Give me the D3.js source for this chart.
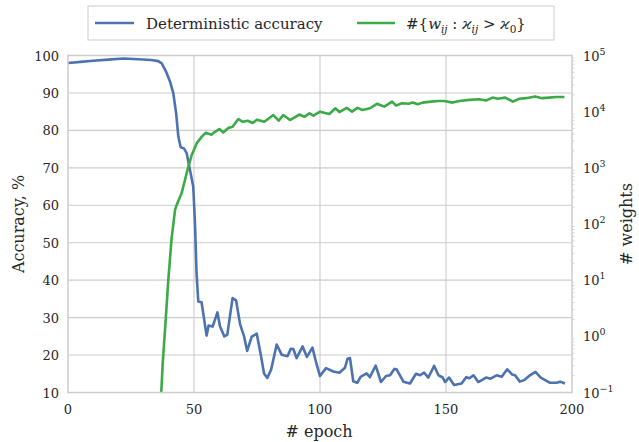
<!DOCTYPE html>
<html><head><meta charset="utf-8">
<script src="https://cdn.jsdelivr.net/npm/d3@7"></script>
<style>
body{margin:0;background:#fff;}
</style></head>
<body><svg id="c" width="639" height="442"></svg>
<script>
const accEpochs=[0,5,10,16,22,28,33,35.8,37.2,38.9,40.5,41.8,42.9,43.8,44.7,46.0,47.1,48.4,49.7,50.4,51.0,51.7,53.0,55.0,55.8,57.4,59.3,60.3,62.0,63.2,65.3,66.7,68.3,69.9,71.1,72.9,74.9,76.5,77.8,79.1,80.6,82.8,84.8,87.1,88.4,89.4,90.7,93.1,94.8,97.0,98.4,100.0,102.4,105.3,107.7,109.9,110.9,111.9,113.2,114.8,116.1,118.5,119.8,122.1,124.2,126.2,127.8,129.5,130.4,133.1,135.7,138.1,139.7,141.3,143.0,145.3,147.0,148.7,149.6,151.2,153.2,156.2,158.0,159.3,160.9,162.8,165.9,167.7,170.1,172.1,174.3,176.3,177.4,179.3,181.0,183.3,185.5,187.6,191.3,193.9,195.3,197.2];
const accValues=[98.0,98.3,98.6,98.9,99.2,99.0,98.8,98.5,97.9,95.7,93.0,89.9,84.6,78.3,75.5,75.2,73.9,69.4,65.0,55,42,34.3,34.1,25.2,27.9,27.6,31.4,27.7,25.0,25.4,35.2,34.6,28.2,24.9,21.1,24.9,25.7,20.1,15.1,13.9,16.1,22.8,20.1,19.7,21.7,21.6,19.2,22.3,19.5,22.0,18.2,14.4,16.5,15.6,15.3,16.6,19.0,19.2,13.0,12.6,14.2,15.1,14.1,17.2,12.8,14.4,14.6,16.3,16.2,12.9,12.4,15.0,14.6,15.3,14.0,17.1,14.6,14.0,12.8,14.0,12.0,12.4,14.1,13.8,14.6,12.8,14.0,13.7,14.6,14.2,16.2,14.8,14.6,12.9,13.3,14.6,15.5,14.0,12.6,12.6,12.9,12.4];
const wEpochs=[37,37.6,38.5,39.8,41.1,42.5,43.4,45.1,47.1,49.1,51.1,53.1,54.6,57.0,57.9,60.1,61.6,63.6,65.3,67.6,69.3,71.3,73.3,75,77.9,81.5,83.6,85.4,88.1,91.8,93.8,95.8,97.4,100,103.7,106.1,107.7,110.6,112.7,114.9,116.9,119.8,122.6,125.5,128.6,130.2,132.5,135.2,136.8,138.8,140.7,144.0,147.1,149.3,152.6,155.3,159.3,163.2,165.9,168.5,170.5,173.5,176.5,179.1,181.7,185.4,188.1,191.0,193.7,197.0];
const wValues=[0.1,0.34,1.3,10,55,180,235,355,810,1700,2750,3600,4200,3900,4250,4900,4250,5100,5400,7400,6600,6900,6300,7200,6600,8700,6900,8700,7100,8900,8100,9300,8500,10000,9100,11500,9800,11700,10000,11700,10700,11500,13800,12300,15100,12900,14100,13800,14500,13500,14500,15100,15500,15500,14500,15500,16200,16600,15800,17800,17000,17800,15100,17000,17400,18600,17400,17800,18200,18200];
const xTicks=[0,50,100,150,200];
const yTicks=[10,20,30,40,50,60,70,80,90,100];
const rExps=[-1,0,1,2,3,4,5];
const legendLabels=["Deterministic accuracy"];

const svg=d3.select("#c");
const L=68,R=572,T=55.5,B=392.5;
const grid="#cccccc", txt="#262626";
const blue="#4c72b0", green="#3caa46";
const FF='"DejaVu Serif",serif';
const x=d3.scaleLinear().domain([0,200]).range([L,R]);
const y=d3.scaleLinear().domain([10,100]).range([B,T]);
const yr=d3.scaleLog().domain([0.1,1e5]).range([B,T]);

const g=svg.append("g");
g.selectAll("line.h").data(yTicks.slice(1,-1)).join("line")
 .attr("x1",L).attr("x2",R).attr("y1",d=>y(d)).attr("y2",d=>y(d))
 .attr("stroke",grid).attr("stroke-width",1.1);
g.selectAll("line.v").data(xTicks.slice(1,-1)).join("line")
 .attr("y1",T).attr("y2",B).attr("x1",d=>x(d)).attr("x2",d=>x(d))
 .attr("stroke",grid).attr("stroke-width",1.1);

const minors=[];
for(let e=-1;e<5;e++) for(let k=2;k<10;k++) minors.push(k*Math.pow(10,e));
g.selectAll("line.m").data(minors).join("line")
 .attr("x1",R).attr("x2",R+2.5).attr("y1",d=>yr(d)).attr("y2",d=>yr(d))
 .attr("stroke",grid).attr("stroke-width",0.8);

const accData=accEpochs.map((e,i)=>[e,accValues[i]]);
const wData=wEpochs.map((e,i)=>[e,wValues[i]]);
svg.append("path").datum(accData).attr("fill","none").attr("stroke",blue).attr("stroke-width",2.6)
 .attr("stroke-linejoin","round")
 .attr("d",d3.line().x(d=>x(d[0])).y(d=>y(d[1])));
svg.append("path").datum(wData).attr("fill","none").attr("stroke",green).attr("stroke-width",2.6)
 .attr("stroke-linejoin","round")
 .attr("d",d3.line().x(d=>x(d[0])).y(d=>yr(d[1])));

svg.append("rect").attr("x",L).attr("y",T).attr("width",R-L).attr("height",B-T)
 .attr("fill","none").attr("stroke",grid).attr("stroke-width",1.5);

svg.append("g").selectAll("text").data(xTicks).join("text")
 .attr("font-family",FF)
 .attr("x",d=>x(d)).attr("y",B+21).attr("text-anchor","middle")
 .attr("font-size",13).attr("fill",txt).text(d=>d);
svg.append("g").selectAll("text").data(yTicks).join("text")
 .attr("font-family",FF)
 .attr("x",L-9).attr("y",d=>y(d)+5).attr("text-anchor","end")
 .attr("font-size",13).attr("fill",txt).text(d=>d);
const rt=svg.append("g").selectAll("text").data(rExps).join("text")
 .attr("font-family",FF)
 .attr("x",R+11).attr("y",d=>yr(Math.pow(10,d))+5)
 .attr("font-size",13).attr("fill",txt);
rt.append("tspan").text("10");
rt.append("tspan").attr("dy",-6).attr("font-size",9.5).text(d=>d<0?"\u2212"+(-d):d);

svg.append("text").attr("font-family",FF).attr("x",319).attr("y",437).attr("text-anchor","middle")
 .attr("font-size",16).attr("fill",txt).text("# epoch");
svg.append("text").attr("font-family",FF).attr("transform","translate(24,224) rotate(-90)").attr("text-anchor","middle")
 .attr("font-size",16).attr("fill",txt).text("Accuracy, %");
svg.append("text").attr("font-family",FF).attr("transform","translate(632,224) rotate(-90)").attr("text-anchor","middle")
 .attr("font-size",16).attr("fill",txt).text("# weights");

const lg=svg.append("g");
lg.append("rect").attr("x",88).attr("y",6).attr("width",466).attr("height",34)
 .attr("fill","#fff").attr("stroke",grid).attr("stroke-width",1);
lg.append("line").attr("x1",95).attr("x2",134).attr("y1",23).attr("y2",23).attr("stroke",blue).attr("stroke-width",2.6);
lg.append("text").attr("font-family",FF).attr("x",146).attr("y",28.5).attr("font-size",15).attr("fill",txt).text(legendLabels[0]);
lg.append("line").attr("x1",357).attr("x2",395).attr("y1",23).attr("y2",23).attr("stroke",green).attr("stroke-width",2.6);
const t2=lg.append("text").attr("font-family",FF).attr("x",406).attr("y",28.5).attr("font-size",15).attr("fill",txt);
t2.append("tspan").text("#{");
t2.append("tspan").attr("font-style","italic").text("w");
t2.append("tspan").attr("font-style","italic").attr("font-size",10.5).attr("dy",4).text("ij");
t2.append("tspan").attr("dy",-4).text(" : ");
t2.append("tspan").attr("font-style","italic").text("\u03f0");
t2.append("tspan").attr("font-style","italic").attr("font-size",10.5).attr("dy",4).text("ij");
t2.append("tspan").attr("dy",-4).text(" > ");
t2.append("tspan").attr("font-style","italic").text("\u03f0");
t2.append("tspan").attr("font-size",10.5).attr("dy",4).text("0");
t2.append("tspan").attr("dy",-4).text("}");
</script></body></html>
